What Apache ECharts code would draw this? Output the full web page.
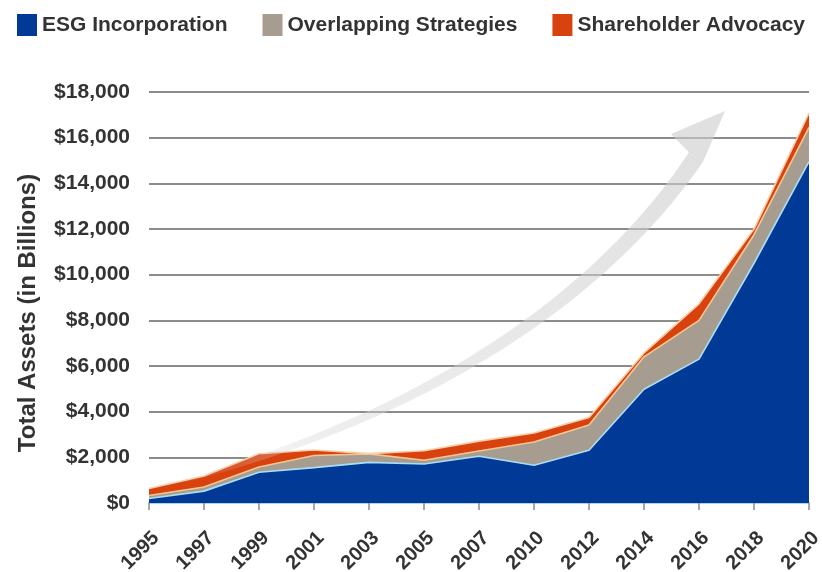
<!DOCTYPE html>
<html>
<head>
<meta charset="utf-8">
<script src="https://cdn.jsdelivr.net/npm/echarts@6/dist/echarts.min.js"></script>
<style>
  html, body { margin: 0; padding: 0; background: #ffffff; }
  #chart { width: 822px; height: 572px; }
</style>
</head>
<body>
<div id="chart"></div>
<script>
// Survey years on the category axis
const years = ['1995', '1997', '1999', '2001', '2003', '2005', '2007', '2010', '2012', '2014', '2016', '2018', '2020'];

// Assets in billions of USD, stacked bottom to top
const esgIncorporation = [200, 520, 1350, 1550, 1780, 1710, 2050, 1650, 2310, 4980, 6300, 10500, 14950];
const overlappingStrategies = [130, 180, 230, 530, 370, 160, 230, 1020, 1110, 1420, 1700, 1250, 1500];
const shareholderAdvocacy = [309, 485, 579, 243, 14, 420, 431, 399, 320, 172, 723, 245, 631];

// Value axis ticks
const yMin = 0;
const yMax = 18000;
const yStep = 2000;

const FONT = "'Liberation Sans', Arial, Helvetica, sans-serif";
const chart = echarts.init(document.getElementById('chart'), null, { renderer: 'canvas' });

// Decorative growth arrow: a tapered cubic curve plus a head
function growthArrow() {
  const p0 = [165, 486], c1 = [420, 420], c2 = [600, 300], p3 = [696, 157];
  const n = 60, left = [], right = [];
  for (let i = 0; i <= n; i++) {
    const t = i / n, u = 1 - t;
    const x = u*u*u*p0[0] + 3*u*u*t*c1[0] + 3*u*t*t*c2[0] + t*t*t*p3[0];
    const y = u*u*u*p0[1] + 3*u*u*t*c1[1] + 3*u*t*t*c2[1] + t*t*t*p3[1];
    const dx = 3*u*u*(c1[0]-p0[0]) + 6*u*t*(c2[0]-c1[0]) + 3*t*t*(p3[0]-c2[0]);
    const dy = 3*u*u*(c1[1]-p0[1]) + 6*u*t*(c2[1]-c1[1]) + 3*t*t*(p3[1]-c2[1]);
    const len = Math.hypot(dx, dy);
    const nx = -dy / len, ny = dx / len;
    const hw = 1.5 + 7 * Math.pow(t, 0.8);
    left.push([x - nx * hw, y - ny * hw]);
    right.push([x + nx * hw, y + ny * hw]);
  }
  const shaft = left.concat(right.reverse());
  const lEnd = left[left.length - 1];
  const rEnd = right[0];
  const head = [lEnd, [671, 134], [725, 111], rEnd];
  const fill = new echarts.graphic.LinearGradient(165, 486, 700, 150, [
    { offset: 0, color: 'rgba(212,212,212,0.0)' },
    { offset: 0.25, color: 'rgba(212,212,212,0.4)' },
    { offset: 1, color: 'rgba(205,205,205,0.62)' }
  ], true);
  return [
    { type: 'polygon', shape: { points: shaft }, style: { fill: fill }, z: 50, silent: true },
    { type: 'polygon', shape: { points: head }, style: { fill: 'rgba(205,205,205,0.62)' }, z: 50, silent: true }
  ];
}

function areaSeries(name, data, fillColor, edgeColor) {
  return {
    name: name,
    type: 'line',
    stack: 'assets',
    data: data,
    symbol: 'none',
    smooth: false,
    lineStyle: { color: edgeColor, width: 1.6 },
    areaStyle: { color: fillColor, opacity: 1 },
    itemStyle: { color: fillColor },
    emphasis: { disabled: true }
  };
}

chart.setOption({
  animation: false,
  backgroundColor: '#ffffff',
  textStyle: { fontFamily: FONT },
  legend: {
    left: 12,
    top: 9,
    itemWidth: 20,
    itemHeight: 22,
    itemGap: 35,
    icon: 'rect',
    textStyle: { fontFamily: FONT, fontSize: 21, fontWeight: 'bold', color: '#333333' },
    data: ['ESG Incorporation', 'Overlapping Strategies', 'Shareholder Advocacy']
  },
  grid: { left: 149, right: 13, top: 92, bottom: 69, containLabel: false, outerBoundsMode: 'none' },
  xAxis: {
    type: 'category',
    data: years,
    boundaryGap: false,
    axisLine: { show: true, lineStyle: { color: '#a6d8ec', width: 2 } },
    axisTick: { show: true, length: 7, lineStyle: { color: '#8a8a8a', width: 1.5 } },
    axisLabel: {
      rotate: 45,
      margin: 25,
      verticalAlign: 'top',
      fontFamily: FONT,
      fontSize: 20,
      fontWeight: 'bold',
      color: '#333333'
    },
    splitLine: { show: false }
  },
  yAxis: {
    type: 'value',
    min: yMin,
    max: yMax,
    interval: yStep,
    axisLine: { show: false },
    axisTick: { show: false },
    axisLabel: {
      margin: 19,
      fontFamily: FONT,
      fontSize: 21,
      fontWeight: 'bold',
      color: '#333333',
      formatter: v => '$' + v.toLocaleString('en-US')
    },
    splitLine: { show: true, lineStyle: { color: '#8c8c8c', width: 2 } }
  },
  graphic: [
    {
      type: 'text',
      x: 28,
      y: 313,
      rotation: Math.PI / 2,
      style: {
        text: 'Total Assets (in Billions)',
        fontFamily: FONT,
        fontSize: 24,
        fontWeight: 'bold',
        fill: '#333333',
        align: 'center',
        verticalAlign: 'middle'
      },
      z: 60
    }
  ].concat(growthArrow()),
  series: [
    areaSeries('ESG Incorporation', esgIncorporation, '#003a96', '#a9def2'),
    areaSeries('Overlapping Strategies', overlappingStrategies, '#a69d90', '#f6c690'),
    areaSeries('Shareholder Advocacy', shareholderAdvocacy, '#d8420f', '#f7cfa6')
  ]
});
</script>
</body>
</html>
